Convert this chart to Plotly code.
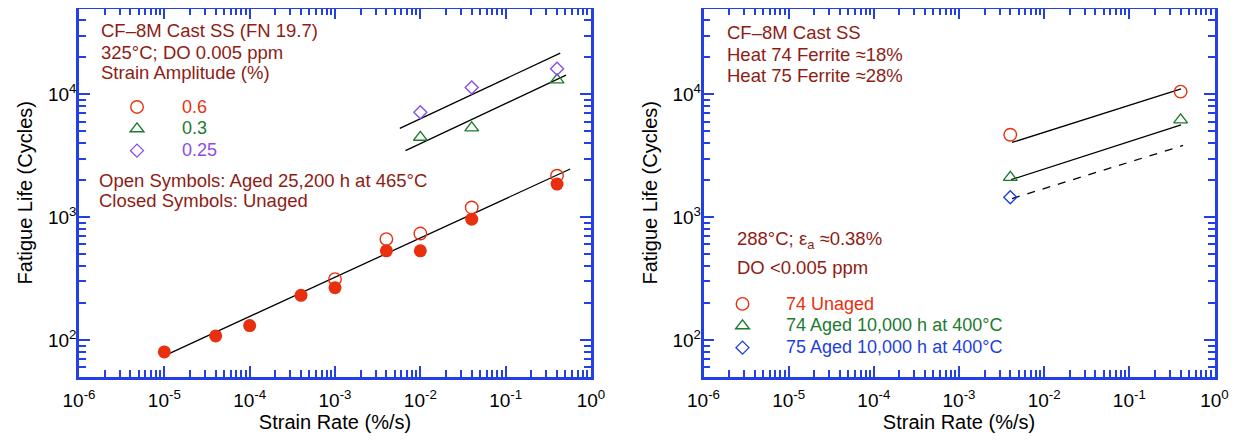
import plotly.graph_objects as go

# ---------------- data (left panel) ----------------
rate_unaged = [1e-5, 4e-5, 1e-4, 4e-4, 1e-3, 4e-3, 1e-2, 4e-2, 0.4]
life_unaged_06 = [80, 108, 131, 231, 267, 532, 532, 964, 1860]
rate_aged_06 = [1e-3, 4e-3, 1e-2, 4e-2, 0.4]
life_aged_06 = [313, 663, 736, 1200, 2177]
rate_aged_03 = [1e-2, 4e-2, 0.4]
life_aged_03 = [4470, 5330, 13130]
rate_aged_025 = [1e-2, 4e-2, 0.4]
life_aged_025 = [7145, 11360, 16140]
fit_main_x = [9.4e-6, 0.57]
fit_main_y = [73, 2467]
fit_025_x = [5.75e-3, 0.436]
fit_025_y = [5290, 21640]
fit_03_x = [6.7e-3, 0.51]
fit_03_y = [3480, 14320]

# ---------------- data (right panel) ----------------
rate_r = [4e-3, 0.4]
life_74_unaged = [4690, 10520]
life_74_aged = [2110, 6200]
rate_r75 = [4e-3]
life_75_aged = [1453]
fit_r1_x = [4.19e-3, 0.405]
fit_r1_y = [4057, 11060]
fit_r2_x = [4.1e-3, 0.405]
fit_r2_y = [2022, 5650]
fit_r3_x = [4.19e-3, 0.428]
fit_r3_y = [1418, 3837]

x_tickvals = [1e-6, 1e-5, 1e-4, 1e-3, 1e-2, 1e-1, 1]
x_ticktext = ["10<sup>-6</sup>", "10<sup>-5</sup>", "10<sup>-4</sup>", "10<sup>-3</sup>",
              "10<sup>-2</sup>", "10<sup>-1</sup>", "10<sup>0</sup>"]
y_tickvals = [1e2, 1e3, 1e4]
y_ticktext = ["10<sup>2</sup>", "10<sup>3</sup>", "10<sup>4</sup>"]

# page body has an 8px margin, so the figure is sized to the visible viewport
OFF = 8
W, H = 1244 - OFF, 445 - OFF
BLUE_AX = "#2340e6"
RED = "#e8300e"
GREEN = "#1d7a2e"
PURPLE = "#8c4de6"
BLUE = "#1f3fe0"
DARKRED = "#8e1c14"
FONT = "Liberation Sans, Arial, sans-serif"


def px(x):
    return (x - OFF) / W


def py(y):
    return 1 - (y - OFF) / H


def lab(text, color):
    return '<span style="color:%s;font-size:18px">%s</span>' % (color, text)


x_minor = [m * 10 ** e for e in range(-6, 0) for m in range(2, 10)]
y_minor = [m * 10 ** e for e in range(1, 5) for m in range(2, 10)]

fig = go.Figure()

# left panel traces
for fx, fy in [(fit_main_x, fit_main_y), (fit_025_x, fit_025_y), (fit_03_x, fit_03_y)]:
    fig.add_trace(go.Scatter(x=fx, y=fy, mode="lines",
                             line=dict(color="black", width=1.3), showlegend=False,
                             xaxis="x", yaxis="y"))
fig.add_trace(go.Scatter(x=rate_aged_06, y=life_aged_06, mode="markers",
                         name=lab("0.6", RED),
                         marker=dict(symbol="circle-open", size=12.5, color=RED,
                                     line=dict(width=1.4)),
                         xaxis="x", yaxis="y", legend="legend"))
fig.add_trace(go.Scatter(x=rate_aged_03, y=life_aged_03, mode="markers",
                         name=lab("0.3", GREEN),
                         marker=dict(symbol="triangle-up-open", size=12, color=GREEN,
                                     line=dict(width=1.4)),
                         xaxis="x", yaxis="y", legend="legend"))
fig.add_trace(go.Scatter(x=rate_aged_025, y=life_aged_025, mode="markers",
                         name=lab("0.25", PURPLE),
                         marker=dict(symbol="diamond-open", size=10, color=PURPLE,
                                     line=dict(width=1.4)),
                         xaxis="x", yaxis="y", legend="legend"))
fig.add_trace(go.Scatter(x=rate_unaged, y=life_unaged_06, mode="markers",
                         marker=dict(symbol="circle", size=13, color=RED),
                         showlegend=False, xaxis="x", yaxis="y"))

# right panel traces
fig.add_trace(go.Scatter(x=fit_r1_x, y=fit_r1_y, mode="lines",
                         line=dict(color="black", width=1.3), showlegend=False,
                         xaxis="x2", yaxis="y2"))
fig.add_trace(go.Scatter(x=fit_r2_x, y=fit_r2_y, mode="lines",
                         line=dict(color="black", width=1.3), showlegend=False,
                         xaxis="x2", yaxis="y2"))
fig.add_trace(go.Scatter(x=fit_r3_x, y=fit_r3_y, mode="lines",
                         line=dict(color="black", width=1.3, dash="8px,8px"),
                         showlegend=False, xaxis="x2", yaxis="y2"))
fig.add_trace(go.Scatter(x=rate_r, y=life_74_unaged, mode="markers",
                         name=lab("74 Unaged", RED),
                         marker=dict(symbol="circle-open", size=12.5, color=RED,
                                     line=dict(width=1.4)),
                         xaxis="x2", yaxis="y2", legend="legend2"))
fig.add_trace(go.Scatter(x=rate_r, y=life_74_aged, mode="markers",
                         name=lab("74 Aged 10,000 h at 400°C", GREEN),
                         marker=dict(symbol="triangle-up-open", size=12, color=GREEN,
                                     line=dict(width=1.4)),
                         xaxis="x2", yaxis="y2", legend="legend2"))
fig.add_trace(go.Scatter(x=rate_r75, y=life_75_aged, mode="markers",
                         name=lab("75 Aged 10,000 h at 400°C", BLUE),
                         marker=dict(symbol="diamond-open", size=10, color=BLUE,
                                     line=dict(width=1.4)),
                         xaxis="x2", yaxis="y2", legend="legend2"))


def xaxis_def(domain, anchor):
    return dict(type="log", domain=domain, anchor=anchor, range=[-6, 0],
                automargin=False,
                showline=True, linecolor=BLUE_AX, linewidth=2.5, mirror="allticks",
                ticks="inside", ticklen=11, tickwidth=2, tickcolor=BLUE_AX,
                tickmode="array", tickvals=x_tickvals, ticktext=x_ticktext,
                tickfont=dict(family=FONT, size=19, color="black"),
                ticklabelstandoff=4,
                showgrid=False, zeroline=False,
                minor=dict(tickmode="array", tickvals=x_minor, ticks="inside",
                           ticklen=7, tickwidth=2, tickcolor=BLUE_AX, showgrid=False),
                title=dict(text="Strain Rate (%/s)", standoff=4,
                           font=dict(family=FONT, size=20, color="black")))


def yaxis_def(domain, anchor):
    return dict(type="log", domain=domain, anchor=anchor, range=[1.69897, 4.69897],
                automargin=False,
                showline=True, linecolor=BLUE_AX, linewidth=2.5, mirror="allticks",
                ticks="inside", ticklen=11, tickwidth=2, tickcolor=BLUE_AX,
                tickmode="array", tickvals=y_tickvals, ticktext=y_ticktext,
                tickfont=dict(family=FONT, size=19, color="black"),
                ticklabelstandoff=-4,
                showgrid=False, zeroline=False,
                minor=dict(tickmode="array", tickvals=y_minor, ticks="inside",
                           ticklen=7, tickwidth=2, tickcolor=BLUE_AX, showgrid=False),
                title=dict(text="Fatigue Life (Cycles)", standoff=10,
                           font=dict(family=FONT, size=20, color="black")))


ydom = [py(377), py(8.5)]
fig.update_layout(
    width=W, height=H,
    margin=dict(l=0, r=0, t=0, b=0, pad=0, autoexpand=False),
    paper_bgcolor="white", plot_bgcolor="white",
    font=dict(family=FONT, size=18, color=DARKRED),
    xaxis=xaxis_def([px(79), px(591)], "y"),
    yaxis=yaxis_def(ydom, "x"),
    xaxis2=xaxis_def([px(703.5), px(1214.5)], "y2"),
    yaxis2=yaxis_def(ydom, "x2"),
    legend=dict(x=px(92), y=py(91), xanchor="left", yanchor="top",
                bgcolor="rgba(0,0,0,0)", itemwidth=80, tracegroupgap=0,
                font=dict(family=FONT, size=14.5)),
    legend2=dict(x=px(699), y=py(288), xanchor="left", yanchor="top",
                 bgcolor="rgba(0,0,0,0)", itemwidth=77, tracegroupgap=0,
                 font=dict(family=FONT, size=14.5)),
)

ann = [
    (99.0, 31.0, "CF–8M Cast SS (FN 19.7)"),
    (99.0, 52.0, "325°C; DO 0.005 ppm"),
    (99.0, 73.0, "Strain Amplitude (%)"),
    (96.5, 180.5, "Open Symbols: Aged 25,200 h at 465°C"),
    (96.5, 200.5, "Closed Symbols: Unaged"),
    (724.5, 32.5, "CF–8M Cast SS"),
    (724.5, 55.0, "Heat 74 Ferrite ≈18%"),
    (724.5, 76.0, "Heat 75 Ferrite ≈28%"),
    (735.0, 239.5, "288°C; ε<sub>a</sub> ≈0.38%"),
    (735.0, 267.5, "DO <0.005 ppm"),
]
for x, y, t in ann:
    fig.add_annotation(x=px(x), y=py(y), xref="paper", yref="paper", text=t,
                       showarrow=False, xanchor="left", yanchor="middle",
                       font=dict(family=FONT, size=18.5, color=DARKRED))

fig.write_html("out.html")
